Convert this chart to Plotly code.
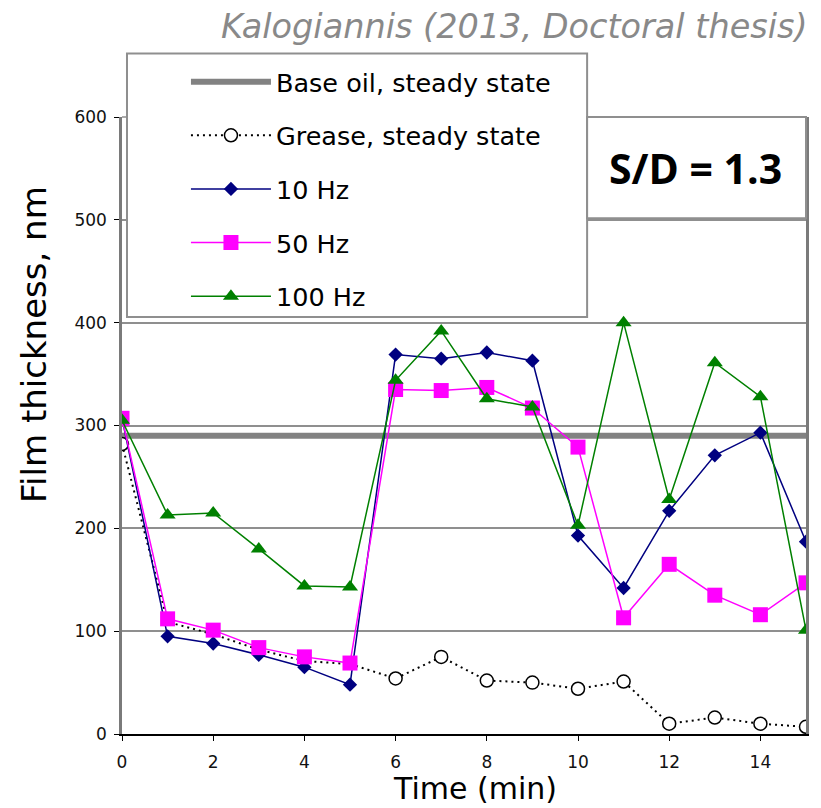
import plotly.graph_objects as go

# Time axis (min)
time_min = list(range(16))

# Film thickness (nm) for each condition
base_oil_level = 290
grease_steady = [282, 109, 97, 82, 71, 68, 54, 75, 52, 50, 44, 51, 10, 16, 10, 7]
grease_marker_shown = [True, False, False, False, False, False] + [True] * 10
hz10 = [307, 95, 88, 77, 65, 48, 369, 365, 371, 363, 193, 142, 217, 271, 293, 187]
hz50 = [307, 112, 101, 84, 75, 69, 335, 334, 337, 317, 279, 113, 165, 135, 116, 147]
hz100 = [305, 213, 215, 180, 144, 143, 344, 392, 326, 318, 203, 400, 228, 361, 328, 101]

x_ticks = [0, 2, 4, 6, 8, 10, 12, 14]
y_ticks = [0, 100, 200, 300, 400, 500, 600]

fig = go.Figure()

fig.add_trace(go.Scatter(
    x=[time_min[0], time_min[-1]], y=[base_oil_level, base_oil_level],
    mode="lines", name="Base oil, steady state",
    line=dict(color="#828282", width=6), legendgroup="a",
))

fig.add_trace(go.Scatter(
    x=time_min, y=grease_steady, mode="lines+markers",
    name="Grease, steady state", legendgroup="b",
    line=dict(color="black", width=2, dash="2px,4px"),
    marker=dict(
        symbol="circle", size=13,
        color=["white" if s else "rgba(0,0,0,0)" for s in grease_marker_shown],
        line=dict(width=1.5,
                  color=["black" if s else "rgba(0,0,0,0)" for s in grease_marker_shown]),
    ),
))

fig.add_trace(go.Scatter(
    x=time_min, y=hz10, mode="lines+markers", name="10 Hz", legendgroup="c",
    line=dict(color="#000080", width=1.5),
    marker=dict(symbol="diamond", size=11, color="#000080"),
))

fig.add_trace(go.Scatter(
    x=time_min, y=hz50, mode="lines+markers", name="50 Hz", legendgroup="d",
    line=dict(color="#ff00ff", width=1.5),
    marker=dict(symbol="square", size=15, color="#ff00ff"),
))

fig.add_trace(go.Scatter(
    x=time_min, y=hz100, mode="lines+markers", name="100 Hz", legendgroup="e",
    line=dict(color="#008000", width=1.5),
    marker=dict(symbol="triangle-up", size=14, color="#008000"),
))

tick_font = dict(family="DejaVu Sans", size=17, color="#111")

fig.update_layout(
    width=821, height=808,
    margin=dict(l=122, r=15, t=117, b=74, autoexpand=False),
    paper_bgcolor="white", plot_bgcolor="white",
    xaxis=dict(
        range=[0, 15], tickvals=x_ticks, showgrid=False, zeroline=False,
        showline=True, linecolor="black", linewidth=1.5,
        ticks="outside", ticklen=5, tickcolor="black", tickwidth=1,
        tickfont=tick_font, ticklabelstandoff=7,
    ),
    yaxis=dict(
        range=[0, 600], tickvals=y_ticks, showgrid=True,
        gridcolor="#8f8f8f", gridwidth=1.5, zeroline=False,
        showline=True, linecolor="#7a7a7a", linewidth=2.5, mirror=True,
        ticks="outside", ticklen=5, tickcolor="black", tickwidth=1,
        tickfont=tick_font, ticklabelstandoff=4,
    ),
    showlegend=True,
    legend=dict(
        xref="container", yref="container",
        x=0.2265, xanchor="left", y=0.9275, yanchor="top",
        bgcolor="rgba(0,0,0,0)", borderwidth=0,
        font=dict(family="DejaVu Sans", size=25.5, color="black"),
        traceorder="grouped", tracegroupgap=17.5,
        itemwidth=80, itemsizing="trace",
    ),
    shapes=[
        # black reference line at 100 nm
        dict(type="line", xref="paper", yref="y", x0=0, x1=1, y0=100, y1=100,
             line=dict(color="black", width=1), layer="below"),
        # top border of the plot frame
        dict(type="line", xref="paper", yref="paper", x0=0, x1=1, y0=1, y1=1,
             line=dict(color="#8f8f8f", width=1.5), layer="below"),
        # legend box
        dict(type="rect", xref="paper", yref="paper",
             x0=0.0073, x1=0.68, y0=0.676, y1=1.103,
             fillcolor="white", line=dict(color="#8f8f8f", width=2), layer="above"),
        # S/D label box
        dict(type="rect", xref="paper", yref="paper",
             x0=0.68, x1=1.0, y0=0.836, y1=1.0,
             fillcolor="white", line=dict(color="#8f8f8f", width=2), layer="above"),
    ],
    annotations=[
        dict(text="Kalogiannis (2013, Doctoral thesis)", xref="paper", yref="paper",
             x=1.006, y=1.146, xanchor="right", yanchor="middle", showarrow=False,
             font=dict(family="DejaVu Sans", size=33.5, color="#898989", style="italic")),
        dict(text="<b>S/D = 1.3</b>", xref="paper", yref="paper",
             x=0.838, y=0.917, xanchor="center", yanchor="middle", showarrow=False,
             font=dict(family="Open Sans", size=41, color="black")),
        dict(text="Film thickness, nm", xref="paper", yref="paper",
             x=-0.1287, y=0.632, xanchor="center", yanchor="middle", textangle=-90,
             showarrow=False, font=dict(family="DejaVu Sans", size=34, color="black")),
        dict(text="Time (min)", xref="paper", yref="paper",
             x=0.516, y=-0.089, xanchor="center", yanchor="middle",
             showarrow=False, font=dict(family="DejaVu Sans", size=30, color="black")),
    ],
)

fig.write_html("out.html")
